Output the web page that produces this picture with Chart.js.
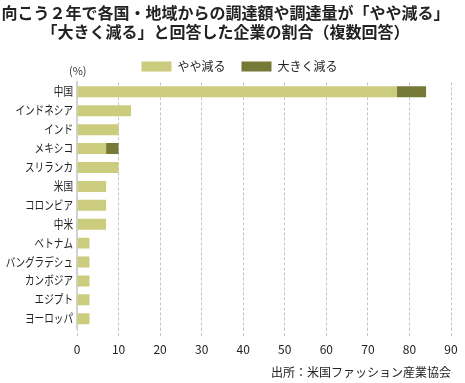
<!DOCTYPE html>
<html><head><meta charset="utf-8">
<script src="https://cdn.jsdelivr.net/npm/chart.js@4/dist/chart.umd.min.js"></script>
<style>html,body{margin:0;padding:0;background:#fff}#wrap{width:465px;height:383px}</style>
</head><body><div id="wrap"><canvas id="c" width="465" height="383"></canvas></div>
<script>
const categories = ["中国","インドネシア","インド","メキシコ","スリランカ","米国","コロンビア","中米","ベトナム","バングラデシュ","カンボジア","エジプト","ヨーロッパ"];
const slightlyDecrease = [77,13,10,7,10,7,7,7,3,3,3,3,3];
const greatlyDecrease = [7,0,0,3,0,0,0,0,0,0,0,0,0];
const xTicks = [0,10,20,30,40,50,60,70,80,90];
const FONT = '"Noto Sans CJK JP", "Noto Sans", sans-serif';

const extraText = {
  id:'extraText',
  afterLayout(chart){
    // shift the legend block right so it is centred like the reference
    if (chart.legend) { chart.legend.left += 14; chart.legend.right += 14; }
  },
  afterDraw(chart){
    const ctx = chart.ctx;
    ctx.save();
    ctx.font = '11px ' + FONT;
    ctx.fillStyle = '#333';
    ctx.textAlign = 'left';
    ctx.textBaseline = 'middle';
    ctx.fillText('(%)', 69, 71);
    // condensed category labels positioned by the y scale
    const ys = chart.scales.y;
    ctx.font = '12px ' + FONT;
    ctx.fillStyle = '#222';
    ctx.textAlign = 'right';
    chart.data.labels.forEach((lab, i) => {
      const y = ys.getPixelForTick(i);
      ctx.save();
      ctx.translate(ys.right - 4, y);
      ctx.scale(0.8, 1);
      ctx.fillText(lab, 0, 0);
      ctx.restore();
    });
    ctx.restore();
  }
};

new Chart(document.getElementById('c'), {
  type:'bar',
  data:{
    labels:categories,
    datasets:[
      {label:'やや減る', data:slightlyDecrease, backgroundColor:'#cbcc7d', borderWidth:0, barPercentage:0.58, categoryPercentage:1},
      {label:'大きく減る', data:greatlyDecrease, backgroundColor:'#777936', borderWidth:0, barPercentage:0.58, categoryPercentage:1}
    ]
  },
  options:{
    indexAxis:'y',
    responsive:false,
    animation:false,
    layout:{padding:{left:0,right:14,top:3,bottom:0}},
    plugins:{
      title:{display:true, text:['向こう２年で各国・地域からの調達額や調達量が「やや減る」','「大きく減る」と回答した企業の割合（複数回答）'], font:{family:FONT,size:16,weight:'bold'}, color:'#222', padding:{top:0,bottom:3}, lineHeight:1.15},
      subtitle:{display:true, position:'bottom', align:'end', text:'出所：米国ファッション産業協会', font:{family:FONT,size:12}, color:'#222', padding:{top:5,bottom:3}},
      legend:{display:true, position:'top', labels:{boxWidth:30, boxHeight:10, font:{family:FONT,size:12}, color:'#222', padding:16}},
      tooltip:{enabled:false}
    },
    scales:{
      x:{stacked:true, min:0, max:90, afterBuildTicks(s){s.ticks = xTicks.map(v=>({value:v}));},
        grid:{color:'#c4c4c4', lineWidth:1, drawTicks:true, tickLength:10, tickColor:'#c4c4c4', tickBorderDash:[3,2]},
        border:{display:false, dash:[3,2]},
        ticks:{font:{family:FONT,size:12}, color:'#222', padding:4}
      },
      y:{stacked:true, grid:{display:false},
        afterFit(s){ s.width = 77; },
        border:{display:true, color:'#d2d2d2', width:2},
        ticks:{display:false}
      }
    }
  },
  plugins:[extraText]
});
</script></body></html>
